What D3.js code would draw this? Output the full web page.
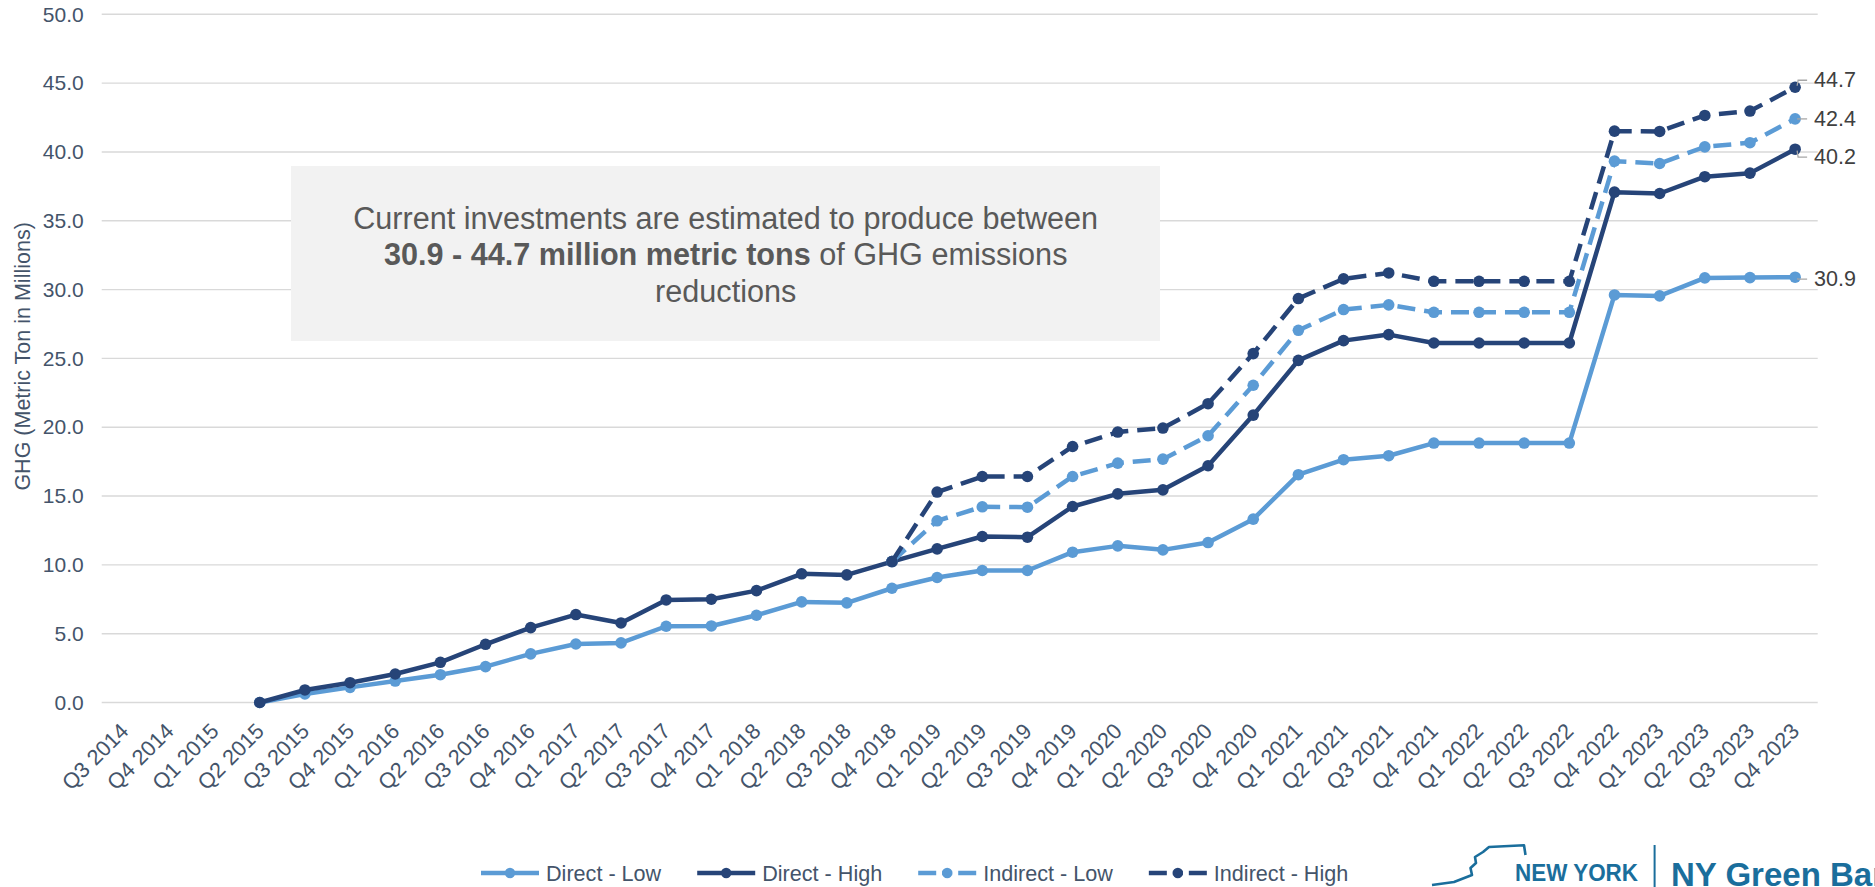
<!DOCTYPE html>
<html>
<head>
<meta charset="utf-8">
<script src="https://cdn.jsdelivr.net/npm/d3@7/dist/d3.min.js"></script>
<style>
  html, body { margin: 0; padding: 0; background: #fff; }
  svg { display: block; font-family: "Liberation Sans", Arial, sans-serif; }
</style>
</head>
<body>
<svg id="chart" width="1875" height="887"></svg>
<script>
// ---------- data ----------
const categories = [
  "Q3 2014","Q4 2014","Q1 2015","Q2 2015","Q3 2015","Q4 2015","Q1 2016","Q2 2016",
  "Q3 2016","Q4 2016","Q1 2017","Q2 2017","Q3 2017","Q4 2017","Q1 2018","Q2 2018",
  "Q3 2018","Q4 2018","Q1 2019","Q2 2019","Q3 2019","Q4 2019","Q1 2020","Q2 2020",
  "Q3 2020","Q4 2020","Q1 2021","Q2 2021","Q3 2021","Q4 2021","Q1 2022","Q2 2022",
  "Q3 2022","Q4 2022","Q1 2023","Q2 2023","Q3 2023","Q4 2023"
];
const directLow = [
  null, null, null, 0.0, 0.62, 1.10, 1.56, 2.02,
  2.61, 3.53, 4.25, 4.33, 5.54, 5.56, 6.34, 7.31,
  7.24, 8.30, 9.08, 9.59, 9.59, 10.92, 11.38, 11.09,
  11.62, 13.32, 16.55, 17.64, 17.93, 18.85, 18.85, 18.85,
  18.85, 29.61, 29.54, 30.85, 30.87, 30.9
];
const directHigh = [
  null, null, null, 0.0, 0.91, 1.44, 2.07, 2.92,
  4.23, 5.44, 6.39, 5.78, 7.45, 7.50, 8.13, 9.35,
  9.27, 10.24, 11.16, 12.06, 12.01, 14.24, 15.16, 15.45,
  17.2, 20.88, 24.86, 26.29, 26.73, 26.12, 26.12, 26.12,
  26.12, 37.08, 36.98, 38.2, 38.46, 40.2
];
const indirectLow = [
  null, null, null, null, null, null, null, null,
  null, null, null, null, null, null, null, null,
  null, 10.24, 13.2, 14.22, 14.19, 16.42, 17.39, 17.68,
  19.38, 23.05, 27.04, 28.55, 28.89, 28.35, 28.35, 28.35,
  28.35, 39.33, 39.16, 40.37, 40.67, 42.4
];
const indirectHigh = [
  null, null, null, null, null, null, null, null,
  null, null, null, null, null, null, null, null,
  null, 10.24, 15.29, 16.42, 16.42, 18.6, 19.65, 19.94,
  21.71, 25.35, 29.35, 30.78, 31.21, 30.6, 30.6, 30.6,
  30.6, 41.51, 41.49, 42.65, 42.97, 44.7
];
const seriesNames = ["Direct - Low", "Direct - High", "Indirect - Low", "Indirect - High"];
const yTicks = [0, 5, 10, 15, 20, 25, 30, 35, 40, 45, 50];
const yTitle = "GHG (Metric Ton in Millions)";
const noteLine1 = "Current investments are estimated to produce between";
const noteBold = "30.9 - 44.7 million metric tons";
const noteRest = " of GHG emissions";
const noteLine3 = "reductions";

// ---------- styles ----------
const seriesData = [directLow, directHigh, indirectLow, indirectHigh];
const colors = ["#5B9BD5", "#264478", "#5B9BD5", "#264478"];
const dashes = [null, null, "18,9", "18,9"];
const labelDy = [2, 8, 0, -7];   // end-label vertical offsets per series
const axisColor = "#44546A";

// ---------- layout ----------
const svg = d3.select("#chart");
const plotL = 101.7, plotR = 1817.7, plotT = 14.3, plotB = 702.5;

const x = d3.scalePoint().domain(categories).range([plotL, plotR]).padding(0.5);
const y = d3.scaleLinear().domain([0, 50]).range([plotB, plotT]);

// gridlines
svg.append("g")
  .selectAll("line").data(yTicks).join("line")
  .attr("x1", plotL).attr("x2", plotR)
  .attr("y1", d => y(d)).attr("y2", d => y(d))
  .attr("stroke", "#D9D9D9").attr("stroke-width", 1.4);

// y axis
const yAxis = svg.append("g")
  .attr("transform", `translate(${plotL - 18},0)`)
  .call(d3.axisLeft(y).tickValues(yTicks).tickFormat(d3.format(".1f")).tickSize(0));
yAxis.select(".domain").remove();
yAxis.selectAll("text").attr("fill", axisColor).attr("font-size", 21)
  .attr("font-family", "Liberation Sans, Arial, sans-serif").attr("x", 0);

// y title
svg.append("text")
  .attr("transform", `translate(23,${(plotT + plotB) / 2 - 2}) rotate(-90)`)
  .attr("text-anchor", "middle").attr("dominant-baseline", "central")
  .attr("fill", axisColor).attr("font-size", 21.5)
  .text(yTitle);

// x axis
const xAxis = svg.append("g")
  .attr("transform", `translate(0,${plotB})`)
  .call(d3.axisBottom(x).tickSize(0));
xAxis.select(".domain").remove();
xAxis.selectAll("text")
  .attr("fill", axisColor).attr("font-size", 21.7)
  .attr("font-family", "Liberation Sans, Arial, sans-serif")
  .attr("text-anchor", "end")
  .attr("dy", null).attr("y", 0)
  .attr("transform", "translate(5,30) rotate(-45)");

// annotation box
const box = svg.append("g");
box.append("rect").attr("x", 291).attr("y", 166).attr("width", 869).attr("height", 175)
  .attr("fill", "#F2F2F2");
const bx = 725.7;
box.append("text").attr("x", bx).attr("y", 229).attr("text-anchor", "middle")
  .attr("font-size", 30.6).attr("fill", "#595959").text(noteLine1);
const t2 = box.append("text").attr("x", bx).attr("y", 265).attr("text-anchor", "middle")
  .attr("font-size", 30.6).attr("fill", "#595959");
t2.append("tspan").attr("font-weight", "bold").text(noteBold);
t2.append("tspan").text(noteRest);
box.append("text").attr("x", bx).attr("y", 302).attr("text-anchor", "middle")
  .attr("font-size", 30.6).attr("fill", "#595959").text(noteLine3);

// lines
const line = d3.line()
  .defined(d => d.v !== null)
  .x(d => x(d.c)).y(d => y(d.v));

seriesData.forEach((arr, i) => {
  const pts = arr.map((v, j) => ({ c: categories[j], v }));
  const g = svg.append("g");
  g.append("path").datum(pts)
    .attr("d", line).attr("fill", "none")
    .attr("stroke", colors[i]).attr("stroke-width", 4.5)
    .attr("stroke-linejoin", "round")
    .attr("stroke-dasharray", dashes[i]);
  g.selectAll("circle").data(pts.filter(d => d.v !== null)).join("circle")
    .attr("cx", d => x(d.c)).attr("cy", d => y(d.v)).attr("r", 5.8)
    .attr("fill", colors[i]);
});

// end labels with leader lines
const lastCat = categories[categories.length - 1];
const lx = x(lastCat);
seriesData.forEach((arr, i) => {
  const v = arr[arr.length - 1];
  const py = y(v);
  const ty = py + labelDy[i];
  svg.append("path")
    .attr("d", `M${lx + 2},${py + Math.sign(labelDy[i]) * 1.5} L${lx + 3},${ty} L${lx + 12},${ty}`)
    .attr("fill", "none").attr("stroke", "#A6A6A6").attr("stroke-width", 1.3);
  svg.append("text").attr("x", lx + 19).attr("y", ty)
    .attr("dominant-baseline", "central")
    .attr("font-size", 21.5).attr("fill", "#404040")
    .text(d3.format(".1f")(v));
});

// legend
const legend = svg.append("g");
let legX = 481;
const legY = 873;
seriesNames.forEach((name, i) => {
  const g = legend.append("g");
  g.append("line").attr("x1", legX).attr("x2", legX + 58).attr("y1", legY).attr("y2", legY)
    .attr("stroke", colors[i]).attr("stroke-width", 4.5)
    .attr("stroke-dasharray", dashes[i] ? "18,6,10,6,18" : null);
  g.append("circle").attr("cx", legX + 29).attr("cy", legY).attr("r", 5.2).attr("fill", colors[i]);
  const t = g.append("text").attr("x", legX + 65).attr("y", legY)
    .attr("dominant-baseline", "central")
    .attr("font-size", 21.6).attr("fill", axisColor).text(name);
  legX = legX + 65 + t.node().getComputedTextLength() + 36;
});

// logo (partially cut off at the bottom right, as in the reference)
const logo = svg.append("g");
const logoColor = "#1A6E9C";
logo.append("path")
  .attr("d", "M1432,885 L1454,882 L1472,875 L1470.5,868 L1476,863 L1475,857 L1483,852 L1489,847 L1524,845.3 L1525.5,855")
  .attr("fill", "none").attr("stroke", logoColor).attr("stroke-width", 2.6).attr("stroke-linejoin", "round");
logo.append("text").attr("x", 1515).attr("y", 881).attr("font-size", 24).attr("font-weight", "bold")
  .attr("fill", logoColor).attr("textLength", 123).attr("lengthAdjust", "spacingAndGlyphs").text("NEW YORK");
logo.append("line").attr("x1", 1654.6).attr("x2", 1654.6).attr("y1", 845).attr("y2", 887)
  .attr("stroke", logoColor).attr("stroke-width", 2);
logo.append("text").attr("x", 1671).attr("y", 886).attr("font-size", 33).attr("font-weight", "bold")
  .attr("fill", logoColor).text("NY Green Bank");
</script>
</body>
</html>
